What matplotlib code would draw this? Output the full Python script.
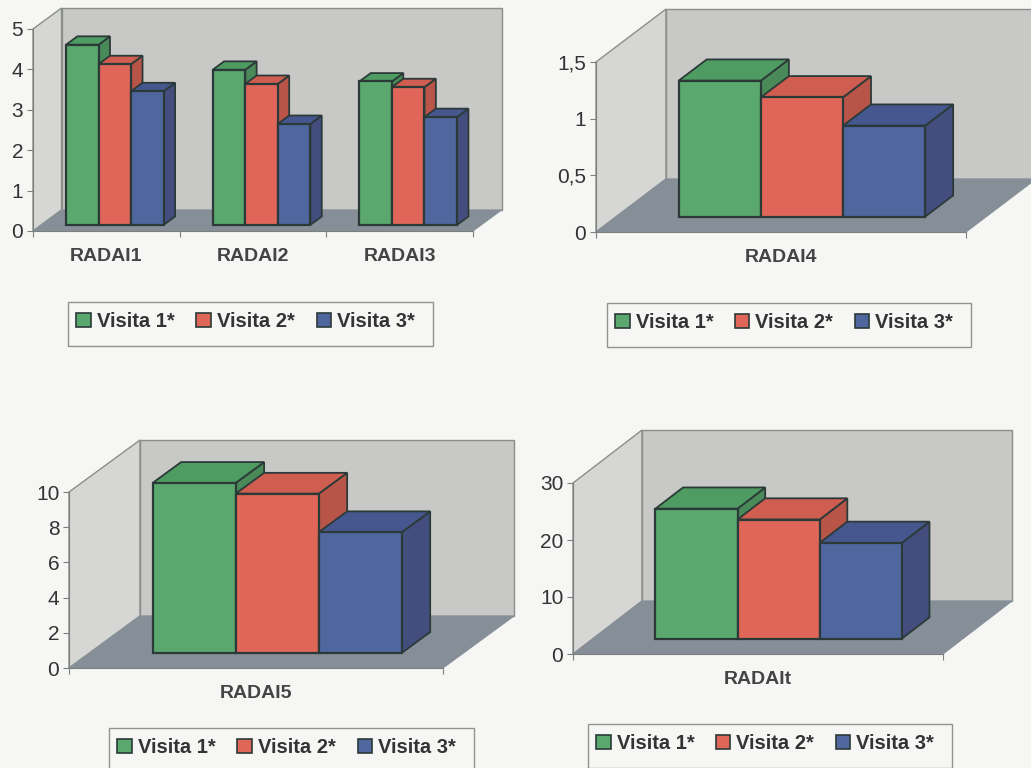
import matplotlib
matplotlib.use("Agg")
import matplotlib.pyplot as plt
from matplotlib.patches import Patch, Rectangle

plt.rcParams['font.family'] = ['Liberation Sans', 'DejaVu Sans']

series = ['Visita 1*', 'Visita 2*', 'Visita 3*']

cats_a = ['RADAI1', 'RADAI2', 'RADAI3']
vals_a = [[4.46, 3.84, 3.55], [3.98, 3.49, 3.41], [3.31, 2.50, 2.67]]
ticks_a = [0, 1, 2, 3, 4, 5]
labels_a = ['0', '1', '2', '3', '4', '5']

cats_b = ['RADAI4']
vals_b = [[1.20], [1.053], [0.803]]
ticks_b = [0, 0.5, 1, 1.5]
labels_b = ['0', '0,5', '1', '1,5']

cats_c = ['RADAI5']
vals_c = [[9.66], [9.05], [6.86]]
ticks_c = [0, 2, 4, 6, 8, 10]
labels_c = ['0', '2', '4', '6', '8', '10']

cats_d = ['RADAIt']
vals_d = [[22.8], [20.9], [16.8]]
ticks_d = [0, 10, 20, 30]
labels_d = ['0', '10', '20', '30']

W, H = 1031, 768
BG = '#f6f7f5'
EDGE = '#2b3a38'
front = ['#5aa86e', '#e0665a', '#50669f']
top = ['#4f9c62', '#cf5d50', '#46578f']
side = ['#4a8a58', '#b85448', '#434e7e']

BAR = 0.222        # about 150% gap
D0, D1 = 0.29, 0.69   # bar position along the floor depth

fig = plt.figure(figsize=(W / 100, H / 100), dpi=100, facecolor=BG)


def panel(cats, vals, ticks, labels, box, depth, legbox):
    x0, x1, ytop, ybot = box
    ax = fig.add_axes([x0 / W, 1 - ybot / H, (x1 - x0) / W, (ybot - ytop) / H])
    ax.patch.set_visible(False)
    n = len(cats)
    ymax = ticks[-1]
    ax.set_xlim(0, n)
    ax.set_ylim(0, ymax)
    # depth in data units
    dx = depth[0] / (x1 - x0) * n
    dy = depth[1] / (ybot - ytop) * ymax

    ax.fill([0, dx, dx, 0], [0, dy, ymax + dy, ymax], fc='#d6d6d4', ec='#8a8f8c', lw=1, clip_on=False, zorder=1)
    ax.fill([dx, n + dx, n + dx, dx], [dy, dy, ymax + dy, ymax + dy], fc='#c8c8c7', ec='#8a8f8c', lw=1, clip_on=False, zorder=1)
    ax.fill([0, n, n + dx, dx], [0, 0, dy, dy], fc='#868f97', ec='#868f97', lw=0.8, clip_on=False, zorder=2)

    z = 3
    for c in range(n):
        for s in range(3):
            v = vals[s][c]
            left = c + 0.76 * BAR + s * BAR + D0 * dx
            right = left + BAR
            base = D0 * dy
            sx = (D1 - D0) * dx
            sy = (D1 - D0) * dy
            ax.fill([right, right + sx, right + sx, right], [base, base + sy, base + v + sy, base + v],
                    fc=side[s], ec=EDGE, lw=1.3, clip_on=False, zorder=z)
            ax.fill([left, right, right + sx, left + sx], [base + v, base + v, base + v + sy, base + v + sy],
                    fc=top[s], ec=EDGE, lw=1.3, clip_on=False, zorder=z)
            ax.bar(left, v, BAR, bottom=base, align='edge', color=front[s], edgecolor=EDGE, lw=1.6, clip_on=False, zorder=z + 1)
            z += 2

    for name in ['top', 'right']:
        ax.spines[name].set_visible(False)
    for name in ['left', 'bottom']:
        ax.spines[name].set_color('#7b807e')
        ax.spines[name].set_zorder(2)
    ax.set_yticks(ticks)
    ax.set_yticklabels(labels, fontsize=15, color='#333333')
    ax.tick_params(axis='y', length=4, color='#7b807e', pad=3)
    ax.set_xticks(range(n + 1))
    ax.set_xticklabels([])
    ax.set_xticks([c + 0.5 for c in range(n)], minor=True)
    ax.set_xticklabels(cats, minor=True, fontsize=14, fontweight='bold', color='#444444')
    ax.tick_params(axis='x', which='major', length=4, color='#7b807e')
    ax.tick_params(axis='x', which='minor', length=0, pad=12.5)

    lx0, lx1, ly0 = legbox
    fig.add_artist(Rectangle((lx0 / W, 1 - (ly0 + 44) / H), (lx1 - lx0) / W, 44 / H, fill=False,
                             ec='#8f9491', lw=1, transform=fig.transFigure))
    handles = [Patch(fc=front[i], ec=EDGE, lw=1.2) for i in range(3)]
    ax.legend(handles, series, ncols=3, loc='upper left', mode='expand',
              bbox_to_anchor=(lx0 / W, 1 - (ly0 + 3) / H, (lx1 - lx0 - 10) / W, 0.001),
              bbox_transform=fig.transFigure, borderaxespad=0, borderpad=0.4,
              handlelength=0.72, handleheight=0.72, handletextpad=0.3, columnspacing=0.3,
              prop={'size': 14.5, 'weight': 'bold'}, labelcolor='#333333', frameon=False)


panel(cats_a, vals_a, ticks_a, labels_a, (33, 473, 29, 231), (28.5, 21), (68, 433, 302))
panel(cats_b, vals_b, ticks_b, labels_b, (596, 966, 62, 232), (70, 53), (607, 971, 303))
panel(cats_c, vals_c, ticks_c, labels_c, (69, 443, 492, 668), (71, 52), (109, 474, 728))
panel(cats_d, vals_d, ticks_d, labels_d, (573, 943, 483, 654), (69, 53), (588, 952, 724))

fig.savefig('out.png', dpi=100, facecolor=BG)
